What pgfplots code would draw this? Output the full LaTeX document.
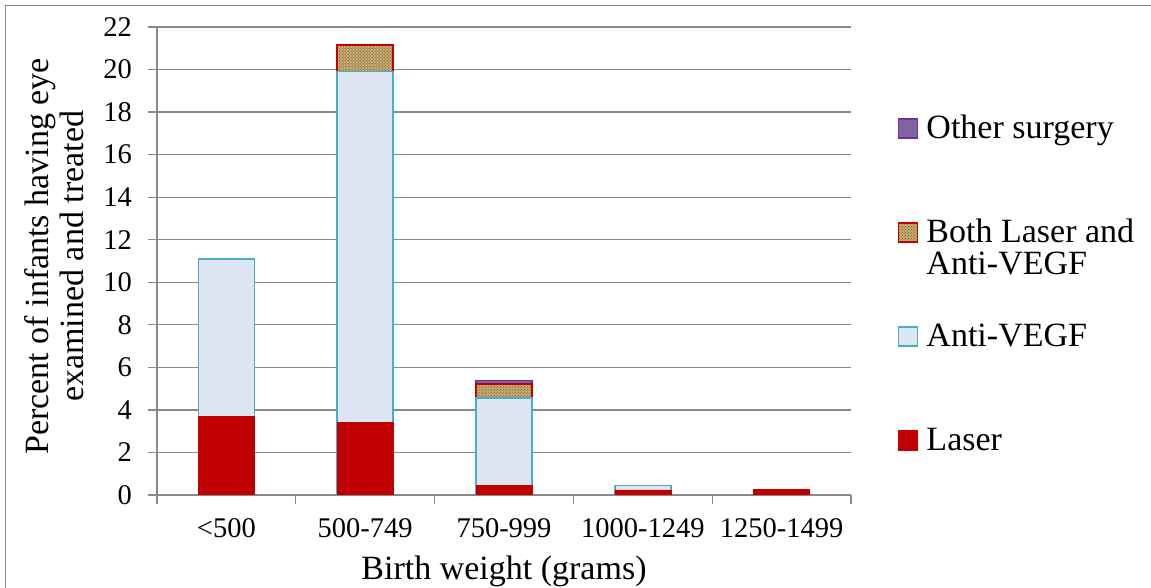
\documentclass[border=0pt]{standalone}
\usepackage{fontspec}
\setmainfont{Liberation Serif}
\usepackage{pgfplots}
\pgfplotsset{compat=1.18}
\usetikzlibrary{patterns}

\definecolor{laser}{HTML}{C00000}
\definecolor{antifill}{HTML}{DCE6F2}
\definecolor{antiedge}{HTML}{4BACC6}
\definecolor{bothfill}{HTML}{C8AD72}
\definecolor{bothdots}{HTML}{5E4220}
\definecolor{otherfill}{HTML}{8064A2}
\definecolor{otheredge}{HTML}{7030A0}
\definecolor{gridgray}{HTML}{898989}

\pgfplotsset{
  segbar/.style={ybar, bar width=56bp, bar shift=0pt,
    legend image code/.code={\draw[##1, line width=1.5bp] (0bp,0bp) rectangle (19bp,19bp);}},
}

\begin{document}
\begin{tikzpicture}
\useasboundingbox (0,0) rectangle (1151bp,588bp);
\draw[gridgray, line width=1.2bp] (5.5bp,0) -- (5.5bp,582.5bp) -- (1151bp,582.5bp);
\begin{axis}[
    at={(157bp,93bp)}, anchor=south west,
    scale only axis, width=694bp, height=468bp,
    xmin=-0.5, xmax=4.5,
    ymin=0, ymax=22,
    axis lines*=left,
    axis line style={gridgray, line width=1.3bp},
    xtick={-0.5,0.5,...,4.5},
    xticklabels={},
    extra x ticks={0,1,2,3,4},
    extra x tick labels={{<500},{500-749},{750-999},{1000-1249},{1250-1499}},
    extra x tick style={major tick length=0pt},
    ytick={0,2,...,22},
    tick align=outside,
    major tick length=9bp,
    tick style={gridgray, line width=1.3bp},
    ymajorgrids=true,
    grid style={gridgray, line width=1.3bp},
    /pgf/number format/assume math mode=true,
    tick label style={font=\fontsize{28.5bp}{30bp}\selectfont},
    xticklabel style={anchor=base, yshift=-42bp},
    yticklabel style={anchor=east, inner sep=0pt, xshift=-16bp},
    xlabel={Birth weight (grams)},
    ylabel={Percent of infants having eye\\examined and treated},
    every axis x label/.style={at={(axis description cs:0.5,-0.1816)}, anchor=base,
      font=\fontsize{34bp}{34bp}\selectfont},
    every axis y label/.style={at={(axis description cs:-0.148,0.51)}, rotate=90,
      anchor=center, align=center, font=\fontsize{34bp}{35bp}\selectfont},
    legend style={draw=none, fill=none, inner sep=0pt, outer sep=0pt,
      at={(axis description cs:1.0677,0.814)}, anchor=north west,
      font=\fontsize{34bp}{32bp}\selectfont,
      row sep=72bp, column sep=8bp,
      cells={anchor=base west},
      nodes={inner sep=0pt, text height=24bp, text depth=8bp}},
]

% tops of each stacked segment, drawn back to front
\addplot[segbar, fill=otherfill, draw=otheredge, line width=1.5bp]
    coordinates {(2,5.38)};
\addlegendentry{Other surgery}

\addplot[segbar, fill=bothfill, draw=laser, line width=2bp,
    postaction={pattern=crosshatch dots, pattern color=bothdots}]
    coordinates {(1,21.15)(2,5.2)};
\addlegendentry{\begin{tabular}[t]{@{}l@{}}Both Laser and\\Anti-VEGF\end{tabular}}

\addplot[segbar, fill=antifill, draw=antiedge, line width=1.5bp]
    coordinates {(0,11.1)(1,19.9)(2,4.55)(3,0.45)};
\addlegendentry{Anti-VEGF}

\addplot[segbar, fill=laser, draw=laser, line width=0.5bp]
    coordinates {(0,3.7)(1,3.4)(2,0.45)(3,0.24)(4,0.27)};
\addlegendentry{Laser}

\end{axis}
\end{tikzpicture}
\end{document}
